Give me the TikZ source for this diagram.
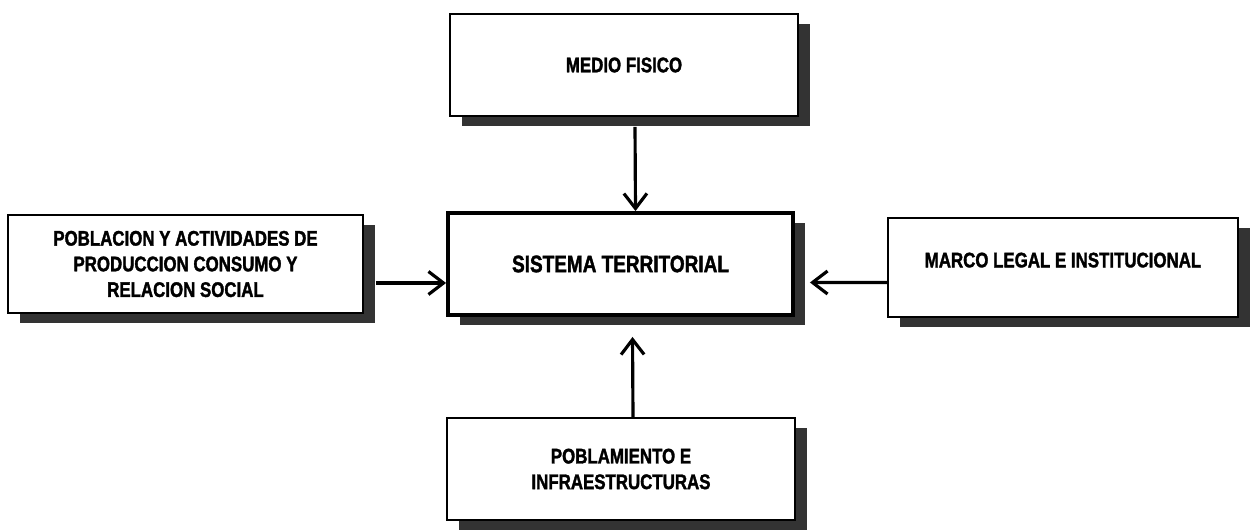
\documentclass[tikz,border=0pt]{standalone}
\usepackage{fontspec}
\setmainfont{Liberation Sans}[FakeStretch=0.8,BoldFeatures={FakeBold=1.6}]
\usepackage{tikz}
\usetikzlibrary{arrows.meta,shadows}

\begin{document}
\begin{tikzpicture}[x=0.2mm,y=-0.2mm,
    caja/.style={rectangle,draw,line width=1.1pt,fill=white,align=center,
      font=\fontsize{12}{14.6}\selectfont\bfseries,inner sep=0pt,
      minimum width=6.96cm,minimum height=2.04cm,
      drop shadow={shadow xshift=0.24cm,shadow yshift=-0.2cm,fill=black!80,opacity=1}},
    flecha/.style={line width=1.8pt,-{Straight Barb[length=3mm,width=4.6mm,line width=1.8pt]}}]

    \useasboundingbox (0,0) rectangle (1252,531);

    \node[caja](fisico) at (624,65) {MEDIO FISICO};
    \node[caja,line width=2.2pt,minimum width=6.9cm,
      font=\fontsize{13.5}{16}\selectfont\bfseries](sistema) at (620.5,264) {SISTEMA TERRITORIAL};
    \node[caja,minimum width=7.1cm,minimum height=1.96cm](poblacion) at (185.5,264)
      {POBLACION Y ACTIVIDADES DE\\PRODUCCION CONSUMO Y\\RELACION SOCIAL};
    \node[caja,minimum width=7cm,minimum height=1.98cm,text depth=0.3cm](marco) at (1063,267.5)
      {MARCO LEGAL E INSTITUCIONAL};
    \node[caja](infra) at (621,469) {POBLAMIENTO E\\INFRAESTRUCTURAS};

    \draw[flecha] ([xshift=0.22cm,yshift=-0.2cm]fisico.south) -- ([xshift=0.3cm]sistema.north);
    \draw[flecha] ([xshift=0.24cm,yshift=-0.38cm]poblacion.east) -- ([yshift=-0.38cm]sistema.west);
    \draw[flecha] ([yshift=-0.3cm]marco.west) -- ([xshift=0.3cm,yshift=-0.37cm]sistema.east);
    \draw[flecha] ([xshift=0.24cm]infra.north) -- ([xshift=0.24cm,yshift=-0.4cm]sistema.south);
  \end{tikzpicture}
\end{document}
